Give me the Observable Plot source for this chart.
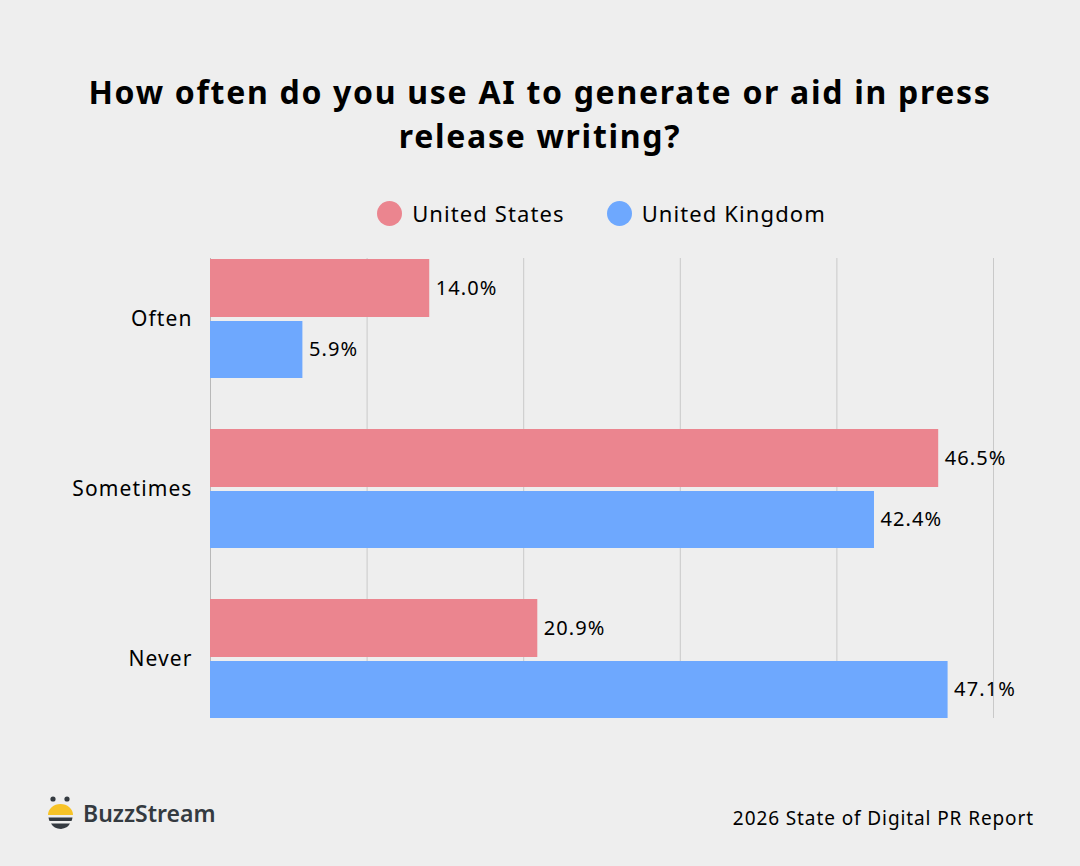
<!DOCTYPE html>
<html>
<head>
<meta charset="utf-8">
<script src="https://cdn.jsdelivr.net/npm/d3@7"></script>
<script src="https://cdn.jsdelivr.net/npm/@observablehq/plot@0.6"></script>
<style>
  html, body { margin: 0; padding: 0; background: #eeeeee; }
  #root { position: relative; width: 1080px; height: 866px; background: #eeeeee; font-family: "Noto Sans", sans-serif; color: #000; overflow: hidden; }
  #title { position: absolute; left: 0; top: 70px; width: 1080px; text-align: center; font-size: 32px; font-weight: 700; line-height: 44px; letter-spacing: 1.7px; }
  #legend { position: absolute; left: 210px; top: 198px; width: 783px; display: flex; justify-content: center; gap: 42px; font-size: 22px; letter-spacing: 1.1px; }
  .item { display: flex; align-items: center; gap: 10px; }
  .sw { width: 25px; height: 25px; border-radius: 50%; display: inline-block; }
  #chart { position: absolute; left: 0; top: 250px; }
  #brand { position: absolute; left: 47px; top: 794px; display: flex; align-items: center; gap: 8px; font-size: 23px; font-weight: 600; color: #343a40; }
  #source { position: absolute; right: 46px; top: 805px; font-size: 19px; letter-spacing: 0.9px; }
</style>
</head>
<body>
<div id="root">
  <div id="title">How often do you use AI to generate or aid in press<br>release writing?</div>
  <div id="legend"></div>
  <div id="chart"></div>
  <div id="brand">
    <svg width="28" height="38" viewBox="0 0 28 38">
      <circle cx="6" cy="5" r="2.6" fill="#343a40"/>
      <circle cx="20" cy="5" r="2.6" fill="#343a40"/>
      <path d="M1 21 A12.5 11 0 0 1 26 21 Z" fill="#f7c326"/>
      <path d="M1.5 23.5 H25.5 A12 12 0 0 1 24.5 27 H2.5 A12 12 0 0 1 1.5 23.5 Z" fill="#343a40"/>
      <path d="M4 29.5 H23 A12 9 0 0 1 14 35 A12 9 0 0 1 4 29.5 Z" fill="#343a40"/>
    </svg>
    <span>BuzzStream</span>
  </div>
  <div id="source">2026 State of Digital PR Report</div>
</div>
<script>
const categories = ["Often", "Sometimes", "Never"];
const seriesNames = ["United States", "United Kingdom"];
const usValues = [14.0, 46.5, 20.9];
const ukValues = [5.9, 42.4, 47.1];
const gridTicks = [10, 20, 30, 40, 50];
const colors = ["#eb858f", "#6ea8fe"];

const us = categories.map((c, i) => ({category: c, value: usValues[i]}));
const uk = categories.map((c, i) => ({category: c, value: ukValues[i]}));

const legend = document.getElementById("legend");
seriesNames.forEach((n, i) => {
  const d = document.createElement("div");
  d.className = "item";
  d.innerHTML = `<span class="sw" style="background:${colors[i]}"></span><span>${n}</span>`;
  legend.appendChild(d);
});

const fmt = v => v.toFixed(1) + "%";

const chart = Plot.plot({
  width: 1080,
  height: 478,
  marginLeft: 210,
  marginRight: 87,
  marginTop: 8,
  marginBottom: 10,
  style: {background: "transparent", fontFamily: "Noto Sans, sans-serif", color: "#000", letterSpacing: "1.1px"},
  x: {domain: [0, 50], axis: null},
  y: {domain: categories, paddingInner: 0.302, paddingOuter: 0, label: null},
  marks: [
    Plot.gridX(gridTicks, {stroke: "#c9c9c9", strokeOpacity: 1}),
    Plot.ruleX([0], {stroke: "#b8b8b8"}),
    Plot.barX(us, {x: "value", y: "category", fill: colors[0], insetBottom: 61}),
    Plot.barX(uk, {x: "value", y: "category", fill: colors[1], insetTop: 62}),
    Plot.text(us, {x: "value", y: "category", text: d => fmt(d.value), dx: 6, dy: -30, textAnchor: "start", fontSize: 20, fill: "#000"}),
    Plot.text(uk, {x: "value", y: "category", text: d => fmt(d.value), dx: 6, dy: 31, textAnchor: "start", fontSize: 20, fill: "#000"}),
    Plot.axisY({tickSize: 0, tickPadding: 18, fontSize: 21, label: null})
  ]
});
document.getElementById("chart").appendChild(chart);
</script>
</body>
</html>
